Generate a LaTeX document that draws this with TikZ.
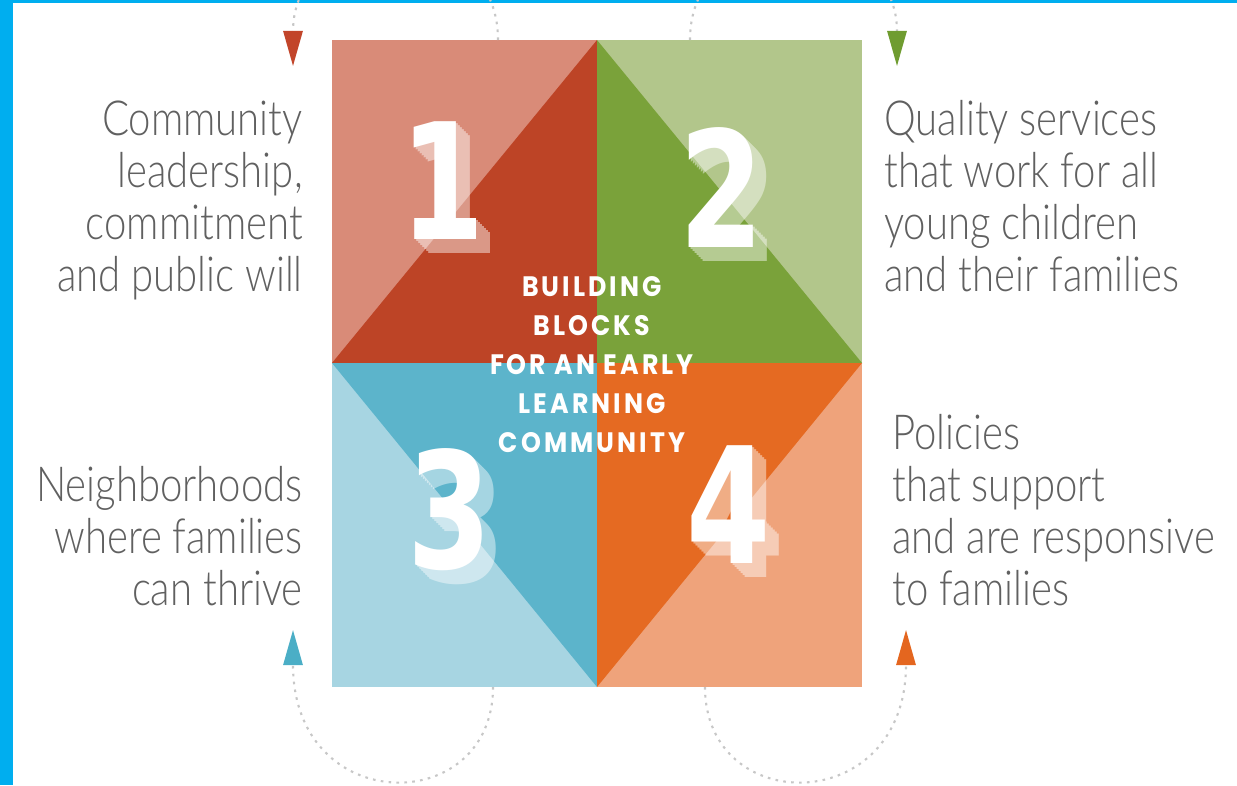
\documentclass[tikz,border=0pt]{standalone}
\usepackage{fontspec}
\usetikzlibrary{
	arrows.meta		% Triangle tips on the dashed loops
	, calc
}

\newfontfamily\labelfont{Lato Light}
\newfontfamily\blockfont[LetterSpace=12]{Poppins}
\newfontfamily\digitfont{DejaVu Sans}

\definecolor{frameblue}{HTML}{00AEEF}
\definecolor{txtgray}{HTML}{606060}
\definecolor{oneLight}{HTML}{D98B78}
\definecolor{oneDark}{HTML}{BD4426}
\definecolor{twoLight}{HTML}{B2C68B}
\definecolor{twoDark}{HTML}{7AA23A}
\definecolor{threeLight}{HTML}{A7D5E2}
\definecolor{threeDark}{HTML}{5CB4CB}
\definecolor{fourLight}{HTML}{EFA37B}
\definecolor{fourDark}{HTML}{E56A22}
\definecolor{oneTip}{HTML}{C2452A}
\definecolor{twoTip}{HTML}{6F9C30}
\definecolor{threeTip}{HTML}{4BAEC6}
\definecolor{fourTip}{HTML}{E4661F}

\begin{document}
\begin{tikzpicture}[
			x=0.02cm, y=-0.02cm,
			sidetext/.style={
				font=\labelfont\fontsize{27.5}{29.6}\selectfont,
				text=txtgray,
				inner sep=0,
				xscale=0.83
			},
			blocktext/.style={
				font=\blockfont\bfseries\fontsize{16}{22.2}\selectfont,
				text=white,
				align=center,
				inner sep=0,
				xscale=0.9
			},
			digit/.style={
				font=\digitfont\bfseries\fontsize{92}{92}\selectfont,
				text=white,
				inner sep=0,
				xscale=0.75
			},
			backarrow/.style={
				draw=black!22,
				line width=1.2pt,
				dash pattern=on 1.5pt off 3pt
			}]

			\useasboundingbox (0,0) rectangle (1237,785);
			\clip (0,0) rectangle (1237,785);

			%%% Frame strips
			\fill [frameblue] (0,0) rectangle (13,785);
			\fill [frameblue] (0,0) rectangle (1237,3);

			%%% The four blocks
			\coordinate (mid) at (597,363);
			\coordinate (topL) at (332,40);
			\coordinate (topM) at (597,40);
			\coordinate (topR) at (862,40);
			\coordinate (midL) at (332,363);
			\coordinate (midR) at (862,363);
			\coordinate (botL) at (332,687);
			\coordinate (botM) at (597,687);
			\coordinate (botR) at (862,687);

			\fill [oneLight] (topL) rectangle (mid);
			\fill [oneDark] (midL) -- (topM) -- (mid) -- cycle;
			\fill [twoLight] (topM) rectangle (midR);
			\fill [twoDark] (topM) -- (midR) -- (mid) -- cycle;
			\fill [threeLight] (midL) rectangle (botM);
			\fill [threeDark] (midL) -- (mid) -- (botM) -- cycle;
			\fill [fourLight] (mid) rectangle (botR);
			\fill [fourDark] (mid) -- (midR) -- (botM) -- cycle;

			%%% Big numbers, each over its extruded shadow
			\foreach \num/\px/\py in {1/443/181, 2/722/188, 3/450/510, 4/729/505} {
				\begin{scope}[transparency group, opacity=0.45]
					\foreach \d in {2,4,...,14}
						\node [digit] at (\px+\d,\py+\d) {\num};
				\end{scope}
				\node [digit] (num\num) at (\px,\py) {\num};
			};

			\node [blocktext] (title) at (592,365) {BUILDING\\BLOCKS\\FOR AN EARLY\\LEARNING\\COMMUNITY};

			%%% Texts beside the blocks
			\node [sidetext, align=right, anchor=east] (leaderText) at (303,200) {Community\\leadership,\\commitment\\and public will};
			\node [sidetext, align=right, anchor=east] (hoodText) at (303,536) {Neighborhoods\\where families\\can thrive};
			\node [sidetext, align=left, anchor=west] (serviceText) at (884,196) {Quality services\\that work for all\\young children\\and their families};
			\node [sidetext, align=left, anchor=west] (policyText) at (892,510) {Policies\\that support\\and are responsive\\to families};

			%%% Dashed loops
			\coordinate (oneFoot) at (498,40);
			\coordinate (oneEnd) at (293,66);
			\coordinate (twoFoot) at (690,40);
			\coordinate (twoEnd) at (897,66);
			\coordinate (threeFoot) at (493,687);
			\coordinate (threeEnd) at (293,630);
			\coordinate (fourFoot) at (705,687);
			\coordinate (fourEnd) at (906,630);

			\draw [backarrow, -{Triangle[length=20pt, width=11pt, color=oneTip]}] (oneFoot) .. controls +(0,-130) and +(0,-150) .. (oneEnd);
			\draw [backarrow, -{Triangle[length=20pt, width=11pt, color=twoTip]}] (twoFoot) .. controls +(0,-130) and +(0,-150) .. (twoEnd);
			\draw [backarrow, -{Triangle[length=20pt, width=11pt, color=threeTip]}] (threeFoot) .. controls +(0,131) and +(0,188) .. (threeEnd);
			\draw [backarrow, -{Triangle[length=20pt, width=11pt, color=fourTip]}] (fourFoot) .. controls +(0,131) and +(0,188) .. (fourEnd);

		\end{tikzpicture}
\end{document}
